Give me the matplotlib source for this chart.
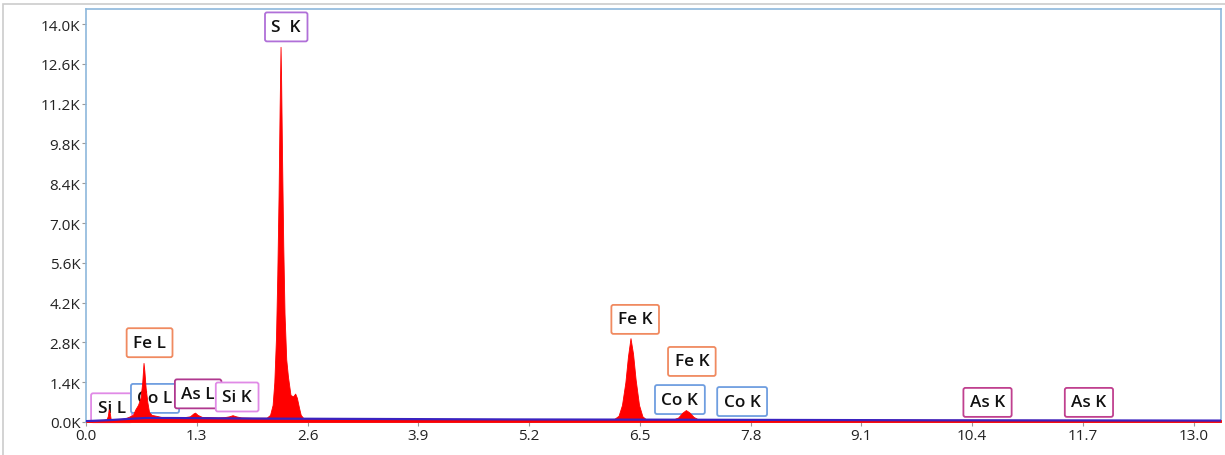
import matplotlib
matplotlib.use("Agg")
import matplotlib.pyplot as plt
from matplotlib.patches import Rectangle
from matplotlib.ticker import FuncFormatter, FixedLocator

plt.rcParams['font.family'] = ['Open Sans', 'DejaVu Sans']

# ---- spectrum (energy keV, counts in K) ----
energy = [0.00, 0.10, 0.20, 0.24, 0.255, 0.268, 0.28, 0.29, 0.35, 0.45, 0.50, 0.55,
          0.58, 0.61, 0.64, 0.66, 0.675, 0.685, 0.70, 0.72, 0.74, 0.77, 0.82, 0.88,
          0.95, 1.05, 1.15, 1.22, 1.26, 1.28, 1.31, 1.36, 1.45, 1.55, 1.62, 1.68,
          1.72, 1.76, 1.82, 1.95, 2.05, 2.12, 2.16, 2.19, 2.21, 2.23, 2.245, 2.26,
          2.272, 2.283, 2.29, 2.30, 2.315, 2.33, 2.35, 2.37, 2.40, 2.43, 2.455, 2.475,
          2.50, 2.52, 2.55, 2.70, 3.00, 4.00, 5.00, 6.00, 6.20, 6.25, 6.29, 6.33,
          6.36, 6.39, 6.42, 6.45, 6.49, 6.53, 6.57, 6.90, 6.95, 7.00, 7.04, 7.08,
          7.13, 7.18, 8.00, 10.00, 13.32]
counts = [0.00, 0.04, 0.07, 0.09, 0.20, 0.45, 0.30, 0.10, 0.09, 0.12, 0.18, 0.25,
          0.45, 0.60, 0.85, 1.40, 2.08, 1.80, 1.20, 0.70, 0.35, 0.25, 0.22, 0.18,
          0.17, 0.16, 0.17, 0.20, 0.30, 0.33, 0.25, 0.18, 0.17, 0.16, 0.17, 0.20,
          0.24, 0.20, 0.16, 0.15, 0.15, 0.15, 0.25, 0.60, 1.40, 3.00, 5.20, 8.00,
          11.0, 13.2, 12.0, 9.50, 6.20, 3.80, 2.20, 1.60, 0.95, 0.90, 1.00, 0.85,
          0.50, 0.25, 0.14, 0.13, 0.12, 0.11, 0.10, 0.10, 0.11, 0.22, 0.60, 1.40,
          2.30, 2.95, 2.40, 1.50, 0.60, 0.20, 0.10, 0.10, 0.16, 0.33, 0.42, 0.34,
          0.18, 0.10, 0.09, 0.08, 0.07]

# ---- background fit line ----
bg_energy = [0.0, 0.3, 0.5, 0.7, 1.0, 1.5, 2.0, 3.0, 5.0, 7.0, 10.0, 13.32]
bg_counts = [0.03, 0.07, 0.11, 0.14, 0.14, 0.13, 0.12, 0.11, 0.09, 0.08, 0.06, 0.05]

# ---- peak labels ----
label_text = ['Si L', 'Co L', 'Fe L', 'As L', 'Si K', 'S  K', 'Fe K', 'Fe K',
              'Co K', 'Co K', 'As K', 'As K']
label_x = [0.30, 0.81, 0.746, 1.316, 1.774, 2.35, 6.445, 7.11, 6.97, 7.70, 10.58, 11.77]
label_y = [0.50, 0.83, 2.79, 0.99, 0.88, 13.9, 3.61, 2.13, 0.79, 0.72, 0.69, 0.69]
label_color = ['#e08ae6', '#6f9ee0', '#f08a60', '#b0388f', '#e08ae6', '#b070d8',
               '#f08a60', '#f08a60', '#6f9ee0', '#6f9ee0', '#c0408f', '#c0408f']

yticks = [0.0, 1.4, 2.8, 4.2, 5.6, 7.0, 8.4, 9.8, 11.2, 12.6, 14.0]
xticks = [0.0, 1.3, 2.6, 3.9, 5.2, 6.5, 7.8, 9.1, 10.4, 11.7, 13.0]

fig = plt.figure(figsize=(12.25, 4.56), dpi=100)
ax = fig.add_axes([86/1225, 1 - 423/456, (1221 - 86)/1225, (423 - 10)/456])

for t, x, y, c in zip(label_text, label_x, label_y, label_color):
    ax.text(x, y, t, ha='center', va='center', fontsize=12.3, color='#111111',
            fontweight='semibold', zorder=1,
            bbox=dict(boxstyle='round,pad=0.38,rounding_size=0.12', facecolor='white',
                      edgecolor=c, linewidth=1.3))

ax.fill_between(energy, 0, counts, color='#ff0000', linewidth=0.6, edgecolor='#ff0000', zorder=3)
ax.plot(bg_energy, bg_counts, color='#3a22c0', linewidth=1.6, zorder=4)

ax.set_xlim(0, 13.32)
ax.set_ylim(0, 14.53)
ax.xaxis.set_major_locator(FixedLocator(xticks))
ax.yaxis.set_major_locator(FixedLocator(yticks))
ax.xaxis.set_major_formatter(FuncFormatter(lambda v, p: f"{v:.1f}"))
ax.yaxis.set_major_formatter(FuncFormatter(lambda v, p: f"{v:.1f}K"))
ax.tick_params(axis='both', labelsize=11, colors='#999999', labelcolor='#222222',
               length=3, width=0.8, pad=1)
for s in ax.spines.values():
    s.set_color('#8db8dc')
    s.set_linewidth(1.2)

# outer light gray frame
fig.patches.append(Rectangle((3/1225, -0.01), 1.1, 1 - 5/456 + 0.01, transform=fig.transFigure,
                             fill=False, edgecolor='#cccccc', linewidth=1.2))

fig.savefig('out.png', dpi=100)
